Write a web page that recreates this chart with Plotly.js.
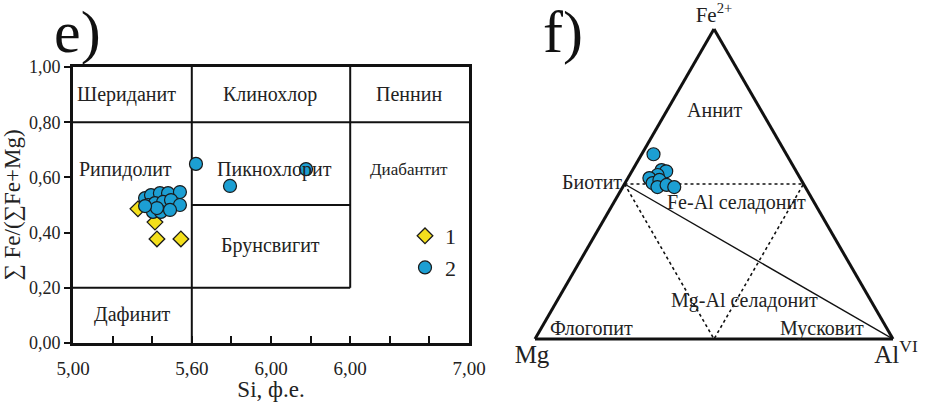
<!DOCTYPE html>
<html>
<head>
<meta charset="utf-8">
<script src="https://cdn.plot.ly/plotly-3.0.1.min.js"></script>
<style>html,body{margin:0;padding:0;background:#fff;}#chart{width:928px;height:402px;}</style>
</head>
<body>
<div id="chart"></div>
<script>
// ---- Data ----
// e) Si vs ΣFe/(ΣFe+Mg)
var series1Si = [5.328, 5.414, 5.424, 5.545];
var series1Fe = [0.486, 0.438, 0.377, 0.377];
var series2Si = [5.364, 5.394, 5.439, 5.480, 5.540, 5.379, 5.414, 5.455, 5.495, 5.540, 5.404, 5.444, 5.490, 5.424, 5.364, 5.621, 5.793, 6.177];
var series2Fe = [0.525, 0.536, 0.543, 0.543, 0.547, 0.500, 0.507, 0.511, 0.518, 0.500, 0.475, 0.475, 0.482, 0.489, 0.496, 0.649, 0.569, 0.630];
var xTickVals = [5, 5.6, 6, 6.4, 7];
var xTickText = ['5,00', '5,60', '6,00', '6,00', '7,00'];
var yTickVals = [0, 0.2, 0.4, 0.6, 0.8, 1.0];
// classification field boundaries [x0, y0, x1, y1]
var fieldBounds = [[5, 0.8, 7, 0.8], [5.6, 0, 5.6, 1], [6.4, 0.2, 6.4, 1], [5, 0.2, 6.4, 0.2], [5.6, 0.5, 6.4, 0.5]];
var fieldNames = ['Шериданит', 'Клинохлор', 'Пеннин', 'Рипидолит', 'Пикнохлорит', 'Диабантит', 'Брунсвигит', 'Дафинит'];
var fieldSi = [5.268, 5.995, 6.697, 5.263, 6.02, 6.697, 5.995, 5.303];
var fieldFe = [0.902, 0.902, 0.902, 0.627, 0.627, 0.627, 0.355, 0.105];

// f) ternary Fe2+ (a) – Mg (b) – AlVI (c)
var ternFe = [0.596, 0.545, 0.541, 0.529, 0.519, 0.503, 0.513, 0.490, 0.497, 0.490];
var ternMg = [0.371, 0.374, 0.363, 0.393, 0.421, 0.420, 0.396, 0.413, 0.384, 0.366];
var ternAl = [0.033, 0.081, 0.096, 0.078, 0.060, 0.077, 0.091, 0.097, 0.119, 0.144];
// ternary field lines
var solidFe = [0.5, 0], solidMg = [0.5, 0], solidAl = [0, 1];
var dotFe = [0.5, 0, 0.5, 0.5], dotMg = [0.5, 0.5, 0, 0.5], dotAl = [0, 0.5, 0.5, 0];

var SERIF = 'Liberation Serif, Times New Roman, serif';
var BLUE = '#1c9fd3', YELLOW = '#f3df1c', EDGE = '#1a1a1a';

var traces = [
  {type: 'scatter', mode: 'markers', name: '1', x: series1Si, y: series1Fe, xaxis: 'x', yaxis: 'y',
   marker: {symbol: 'diamond', size: 12, color: YELLOW, line: {color: EDGE, width: 1.3}}},
  {type: 'scatter', mode: 'markers', name: '2', x: series2Si, y: series2Fe, xaxis: 'x', yaxis: 'y',
   marker: {symbol: 'circle', size: 13, color: BLUE, line: {color: EDGE, width: 1.2}}},
  {type: 'scatterternary', mode: 'lines', a: solidFe, b: solidMg, c: solidAl, subplot: 'ternary', showlegend: false,
   line: {color: '#111', width: 1.4}, hoverinfo: 'skip'},
  {type: 'scatterternary', mode: 'lines', a: dotFe, b: dotMg, c: dotAl, subplot: 'ternary', showlegend: false,
   line: {color: '#111', width: 1.6, dash: 'dot'}, hoverinfo: 'skip'},
  {type: 'scatterternary', mode: 'markers', a: ternFe, b: ternMg, c: ternAl, subplot: 'ternary', showlegend: false,
   marker: {symbol: 'circle', size: 13, color: BLUE, line: {color: EDGE, width: 1.2}}}
];

var shapes = fieldBounds.map(function (s) {
  return {type: 'line', xref: 'x', yref: 'y', x0: s[0], y0: s[1], x1: s[2], y1: s[3],
          line: {color: '#111', width: 2}, layer: 'below'};
});

var annotations = fieldNames.map(function (t, i) {
  return {xref: 'x', yref: 'y', x: fieldSi[i], y: fieldFe[i], text: t, showarrow: false,
          font: {family: SERIF, size: (t === 'Диабантит' ? 17 : 20), color: '#222'}};
});

function px(x) { return x / 928; }
function py(y) { return (402 - y) / 402; }
var ternLabels = [
  ['Аннит', 715, 110], ['Биотит', 592, 182], ['Fe-Al селадонит', 736, 202],
  ['Mg-Al селадонит', 744, 300], ['Флогопит', 591, 328], ['Мусковит', 822, 328]
];
ternLabels.forEach(function (l) {
  annotations.push({xref: 'paper', yref: 'paper', x: px(l[1]), y: py(l[2]), text: l[0], showarrow: false,
                    xanchor: 'center', yanchor: 'middle', font: {family: SERIF, size: 20, color: '#222'}});
});
annotations.push({xref: 'paper', yref: 'paper', x: px(77), y: py(32), text: 'e)', showarrow: false,
                  xanchor: 'center', yanchor: 'middle', font: {family: SERIF, size: 60, color: '#111'}});
annotations.push({xref: 'paper', yref: 'paper', x: px(563), y: py(32), text: 'f)', showarrow: false,
                  xanchor: 'center', yanchor: 'middle', font: {family: SERIF, size: 60, color: '#111'}});

var layout = {
  width: 928, height: 402,
  margin: {l: 0, r: 0, t: 0, b: 0},
  paper_bgcolor: '#fff', plot_bgcolor: '#fff',
  separators: ',.',
  font: {family: SERIF, color: '#222'},
  showlegend: true,
  legend: {x: px(405), y: py(215), xanchor: 'left', yanchor: 'top', bgcolor: 'rgba(0,0,0,0)',
           font: {family: SERIF, size: 22, color: '#222'}, tracegroupgap: 0, itemwidth: 30},
  xaxis: {domain: [px(73), px(469)], range: [5, 7], anchor: 'y', showgrid: false, zeroline: false,
          showline: true, linecolor: '#111', linewidth: 3, mirror: true,
          tickmode: 'array', tickvals: xTickVals, ticktext: xTickText,
          ticks: 'inside', ticklen: 7, tickwidth: 2, tickcolor: '#111', ticklabelstandoff: 6,
          minor: {tick0: 5, dtick: 0.2, ticks: 'inside', ticklen: 7, tickwidth: 2, tickcolor: '#111'},
          tickfont: {family: SERIF, size: 19, color: '#222'},
          title: {text: 'Si, ф.е.', font: {family: SERIF, size: 23, color: '#222'}, standoff: 4}},
  yaxis: {domain: [py(343), py(67)], range: [0, 1], anchor: 'x', showgrid: false, zeroline: false,
          showline: true, linecolor: '#111', linewidth: 3, mirror: true,
          tickmode: 'array', tickvals: yTickVals, tickformat: '.2f',
          ticks: 'outside', ticklen: 6, tickwidth: 2, tickcolor: '#111',
          tickfont: {family: SERIF, size: 18, color: '#222'},
          title: {text: '∑ Fe/(∑Fe+Mg)', font: {family: SERIF, size: 23, color: '#222'}, standoff: 2}},
  ternary: {
    domain: {x: [px(535), px(893)], y: [py(341), py(27)]},
    sum: 1, bgcolor: '#fff',
    aaxis: {showgrid: false, showticklabels: false, ticks: '', linecolor: '#111', linewidth: 3,
            title: {text: 'Fe<sup>2+</sup>', font: {family: SERIF, size: 21, color: '#222'}}},
    baxis: {showgrid: false, showticklabels: false, ticks: '', linecolor: '#111', linewidth: 3,
            title: {text: 'Mg', font: {family: SERIF, size: 25, color: '#222'}}},
    caxis: {showgrid: false, showticklabels: false, ticks: '', linecolor: '#111', linewidth: 3,
            title: {text: 'Al<sup>VI</sup>', font: {family: SERIF, size: 25, color: '#222'}}}
  },
  shapes: shapes,
  annotations: annotations
};

Plotly.newPlot('chart', traces, layout, {displayModeBar: false, staticPlot: true});
</script>
</body>
</html>
